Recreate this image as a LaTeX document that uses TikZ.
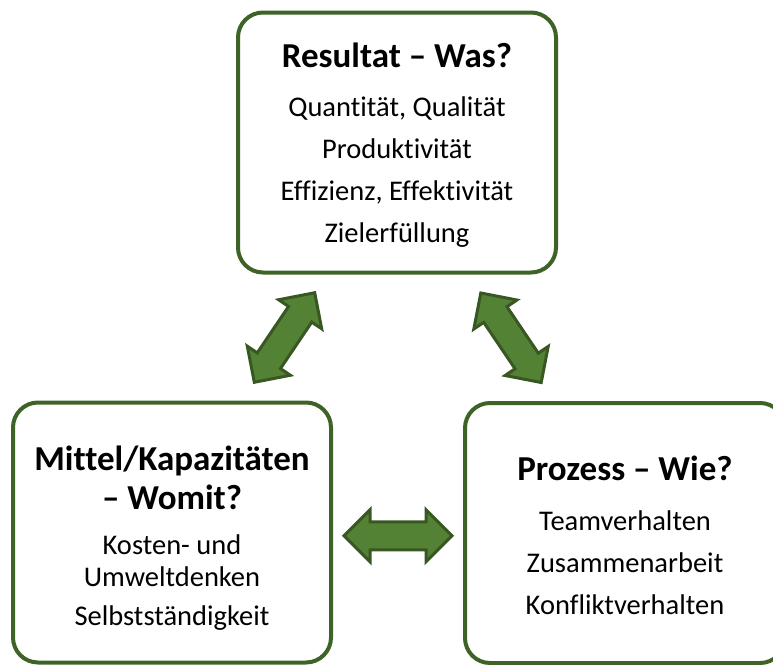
\documentclass[tikz,border=0pt]{standalone}
\usepackage{fontspec}
\setmainfont{Carlito}[Ligatures={NoCommon}]
\usetikzlibrary{shapes.arrows,calc}

\definecolor{boxgreen}{HTML}{3E6326}
\definecolor{arrowfill}{HTML}{548235}
\definecolor{arrowline}{HTML}{385723}

\tikzset{
  areabox/.style={draw=boxgreen, line width=4pt, rounded corners=25pt,
    minimum width=318pt, minimum height=260pt, inner sep=0pt},
  headtext/.style={font=\fontsize{35}{39}\selectfont\bfseries, align=center, inner sep=0pt},
  itemtext/.style={font=\fontsize{28.5}{42}\selectfont, align=center, inner sep=0pt},
  dblarrow/.style={double arrow, draw=arrowline, fill=arrowfill, line width=3pt,
    inner xsep=0pt, inner ysep=12.5pt, double arrow head extend=12pt,
    minimum height=108pt, minimum width=0pt}
}

\begin{document}
\begin{tikzpicture}[x=1pt,y=-1pt]
\useasboundingbox (0,0) rectangle (773,664);
\clip (0,0) rectangle (773,664);
% the three boxes
\node[areabox] (resultat) at (397,142.5) {};
\node[areabox] (mittel) at (172,532.5) {};
\node[areabox, minimum width=320pt] (prozess) at (625,533) {};
% texts
\node[headtext] (resultathead) at (397,55) {Resultat – Was?};
\node[itemtext] (resultatitems) at (397,172.5) {Quantität, Qualität\\Produktivität\\Effizienz, Effektivität\\Zielerfüllung};
\node[headtext] (mittelhead) at (172,477.5) {Mittel/Kapazitäten\\– Womit?};
\node[itemtext, font=\fontsize{28.5}{32}\selectfont] (mittelitems) at (172,583) {Kosten- und\\Umweltdenken\\[7pt]Selbstständigkeit};
\node[headtext] (prozesshead) at (625,468) {Prozess – Wie?};
\node[itemtext] (prozessitems) at (625,562.5) {Teamverhalten\\Zusammenarbeit\\Konfliktverhalten};
% double arrows between the boxes
\node[dblarrow, rotate=56] (arrml) at ($(mittel)!0.5!(resultat)$) {};
\node[dblarrow, rotate=-56] (arrrp) at ($(resultat)!0.5!(prozess)$) {};
\node[dblarrow] (arrmp) at ($(mittel.east)!0.5!(prozess.west)+(0,3)$) {};
\end{tikzpicture}
\end{document}
